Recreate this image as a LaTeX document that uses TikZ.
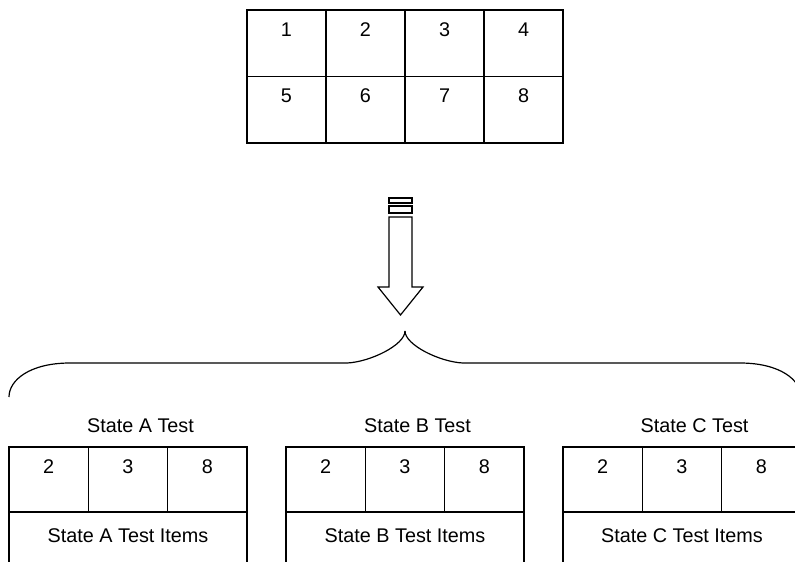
\documentclass[tikz,border=0pt]{standalone}
\usepackage{fontspec}
\setmainfont{Liberation Sans}
\begin{document}
\begin{tikzpicture}[x=1pt,y=-1pt,line width=1.2pt,
  cell/.style={draw,minimum width=79pt,minimum height=66.5pt,inner sep=0pt,outer sep=0pt,anchor=north west},
  subcell/.style={draw,minimum width=79.33pt,minimum height=65pt,inner sep=0pt,outer sep=0pt,anchor=north west},
  itembox/.style={draw,minimum width=238pt,minimum height=62pt,inner sep=0pt,outer sep=0pt,anchor=north west},
  txt/.style={font=\fontsize{19.8pt}{22pt}\selectfont,inner sep=0pt,anchor=base}]

\useasboundingbox (0,0) rectangle (795,562);
\fill[white] (0,0) rectangle (795,562);
\clip (0,0) rectangle (795,562);

% full grid of eight items
\foreach \n in {1,...,8}{
  \pgfmathtruncatemacro\col{mod(\n-1,4)}
  \pgfmathtruncatemacro\row{(\n-1)/4}
  \node[cell] (g\n) at ({247+79*\col},{10+66.5*\row}) {};
  \node[txt] (gt\n) at ([yshift=-26pt]g\n.north) {\n};
}

% block arrow with two stripes above it
\draw (389,198) rectangle (412,203);
\draw (389,206) rectangle (412,213);
\draw[line join=miter] (389,217) -- (412,217) -- (412,287) -- (423,287) -- (400.5,315)
  -- (378,287) -- (389,287) -- cycle;

% brace spanning the three tests
\draw (9,397) .. controls (9,380) and (30,363) .. (70,363) -- (347,363)
  .. controls (370,362) and (405,345) .. (405,331);
\draw (801,397) .. controls (801,380) and (780,363) .. (740,363) -- (463,363)
  .. controls (440,362) and (405,345) .. (405,331);

% one test block per state
\foreach \s/\L in {A/9,B/286,C/563}{
  \node[txt] (t\s) at ({\L+131.5},432) {State \s{} Test};
  \foreach \d [count=\i from 0] in {2,3,8}{
    \node[subcell] (c\s\i) at ({\L+79.33*\i},447) {};
    \node[txt] (d\s\i) at ([yshift=-26pt]c\s\i.north) {\d};
  }
  \node[itembox] (b\s) at (\L,512) {};
  \node[txt] (i\s) at ([yshift=-30pt]b\s.north) {State \s{} Test Items};
}
\end{tikzpicture}
\end{document}
